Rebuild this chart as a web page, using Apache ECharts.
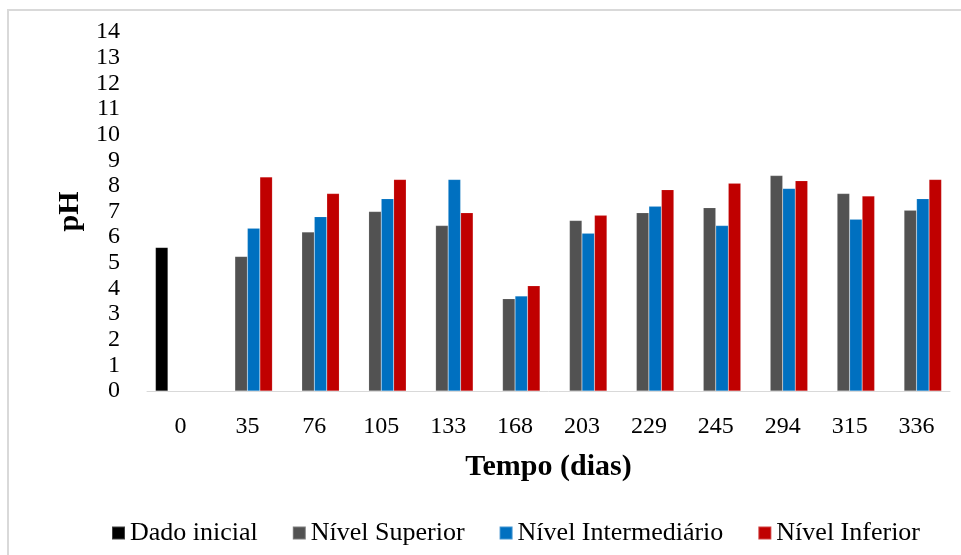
<!DOCTYPE html>
<html>
<head>
<meta charset="utf-8">
<script src="https://cdn.jsdelivr.net/npm/echarts@6/dist/echarts.min.js"></script>
<style>
html,body{margin:0;padding:0;background:#fff;}
#chart{width:961px;height:555px;}
</style>
</head>
<body>
<div id="chart"></div>
<script>
const categories = ['0','35','76','105','133','168','203','229','245','294','315','336'];
const dadoInicial = [5.6, null, null, null, null, null, null, null, null, null, null, null];
const nivelSuperior = [null, 5.25, 6.2, 7.0, 6.45, 3.6, 6.65, 6.95, 7.15, 8.4, 7.7, 7.05];
const nivelIntermediario = [null, 6.35, 6.8, 7.5, 8.25, 3.7, 6.15, 7.2, 6.45, 7.9, 6.7, 7.5];
const nivelInferior = [null, 8.35, 7.7, 8.25, 6.95, 4.1, 6.85, 7.85, 8.1, 8.2, 7.6, 8.25];
const seriesNames = ['Dado inicial', 'Nível Superior', 'Nível Intermediário', 'Nível Inferior'];
const seriesColors = ['#000000', '#525252', '#0070C0', '#C00000'];

const FONT = '"Liberation Serif", "Times New Roman", serif';
const chart = echarts.init(document.getElementById('chart'), null, {renderer: 'canvas'});

const dataSets = [dadoInicial, nivelSuperior, nivelIntermediario, nivelInferior];
const series = dataSets.map((d, i) => ({
  name: seriesNames[i],
  type: 'bar',
  data: d,
  barGap: '0%',
  barWidth: 12.5,
  itemStyle: {color: seriesColors[i], borderColor: 'rgba(255,255,255,0.25)', borderWidth: 0.5},
  emphasis: {disabled: true}
}));

chart.setOption({
  animation: false,
  backgroundColor: '#ffffff',
  graphic: [{
    type: 'rect',
    shape: {x: 8, y: 10, width: 1000, height: 600},
    style: {fill: 'none', stroke: '#d9d9d9', lineWidth: 2},
    silent: true
  }],
  grid: {left: 147, right: 11, top: 32, bottom: 164, containLabel: false},
  legend: {
    data: seriesNames,
    left: 106,
    top: 515,
    icon: 'rect',
    itemWidth: 13,
    itemHeight: 13,
    itemGap: 34,
    textStyle: {fontFamily: FONT, fontSize: 26, color: '#000'}
  },
  xAxis: {
    type: 'category',
    data: categories,
    name: 'Tempo (dias)',
    nameLocation: 'middle',
    nameGap: 61,
    nameTextStyle: {fontFamily: FONT, fontSize: 30, fontWeight: 'bold', color: '#000'},
    axisLine: {lineStyle: {color: '#d9d9d9', width: 1}},
    axisTick: {show: false},
    axisLabel: {fontFamily: FONT, fontSize: 24, color: '#000', margin: 24}
  },
  yAxis: {
    type: 'value',
    min: 0,
    max: 14,
    interval: 1,
    name: 'pH',
    nameLocation: 'middle',
    nameGap: 58,
    nameTextStyle: {fontFamily: FONT, fontSize: 30, fontWeight: 'bold', color: '#000'},
    axisLine: {show: false},
    axisTick: {show: false},
    splitLine: {show: false},
    axisLabel: {fontFamily: FONT, fontSize: 24, color: '#000', margin: 27}
  },
  series: series
});
</script>
</body>
</html>
